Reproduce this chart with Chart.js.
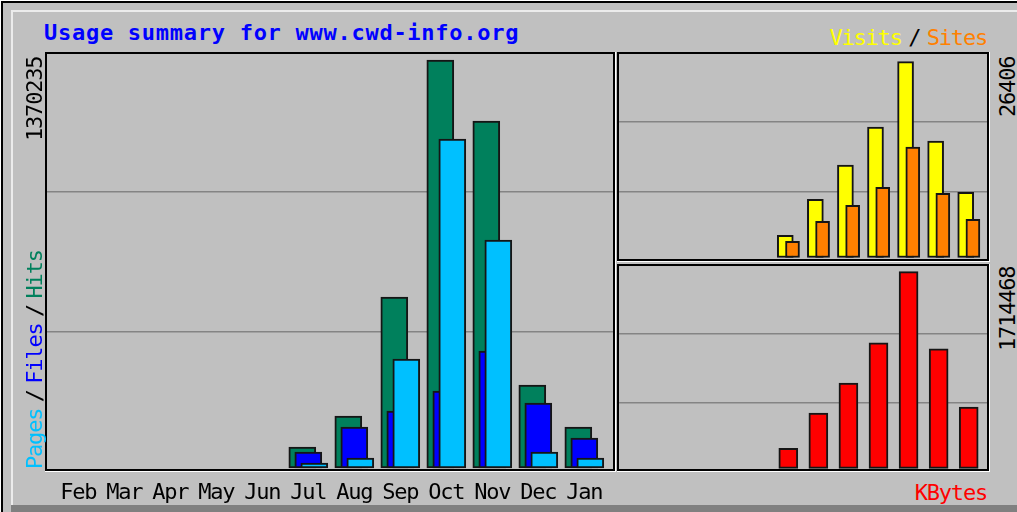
<!DOCTYPE html>
<html><head><meta charset="utf-8">
<script src="https://cdn.jsdelivr.net/npm/chart.js@4.4.1/dist/chart.umd.min.js"></script>
<style>
html,body{margin:0;padding:0;background:#fff;}
#wrap{position:relative;width:1017px;height:512px;overflow:hidden;background:#fff;}
.abs{position:absolute;}
canvas{position:absolute;}
.t{position:absolute;white-space:nowrap;font-family:"DejaVu Sans Mono",monospace;font-size:22px;line-height:22px;letter-spacing:-1.2px;}
.rot{transform-origin:0 0;transform:rotate(-90deg);}
.sl{margin:0 6.5px;color:#000;}
</style></head><body>
<div id="wrap">
  <div class="abs" style="left:1px;top:1px;right:0;bottom:0;background:#c0c0c0;border-left:2px solid #000;border-top:2px solid #000;"></div>
  <div class="abs" style="left:11px;top:10px;right:0;height:2px;background:#ececec"></div>
  <div class="abs" style="left:11px;top:10px;width:2px;height:495px;background:#ececec"></div>
  <div class="abs" style="left:11px;top:505px;right:0;height:7px;background:#808080"></div>

  <canvas id="main" width="571" height="460" style="left:45px;top:52px"></canvas>
  <canvas id="vs" width="373" height="210" style="left:617px;top:52px"></canvas>
  <canvas id="kb" width="373" height="208" style="left:617px;top:264px"></canvas>

  <div class="t" id="title" style="left:44px;top:22px;font-weight:bold;letter-spacing:0.73px;color:#0000ff"></div>
  <div class="t" style="right:30px;top:27px"><span style="color:#ffff00">Visits</span><span class="sl">/</span><span style="color:#ff8000">Sites</span></div>
  <div class="t" style="right:30px;top:482px;color:#ff0000">KBytes</div>
  <div class="t rot" id="lmax" style="left:24px;top:141px;color:#000"></div>
  <div class="t rot" style="left:24px;top:469px"><span style="color:#00c0ff">Pages</span><span class="sl">/</span><span style="color:#0000ff">Files</span><span class="sl">/</span><span style="color:#00805c">Hits</span></div>
  <div class="t rot" id="vmax" style="left:997px;top:117px;color:#000"></div>
  <div class="t rot" id="kmax" style="left:997px;top:351px;color:#000"></div>
</div>
<script>
const titleText = 'Usage summary for www.cwd-info.org';
const months = ['Feb','Mar','Apr','May','Jun','Jul','Aug','Sep','Oct','Nov','Dec','Jan'];
const hits   = [0,0,0,0,0, 70500, 174600, 574300, 1370235, 1165400, 278700, 137700];
const files  = [0,0,0,0,0, 53700, 137700, 191400, 258600, 392900, 218300, 100800];
const pages  = [0,0,0,0,0, 16800, 33600, 366100, 1104900, 765700, 53700, 33600];
const visits = [0,0,0,0,0, 2979, 7854, 12458, 17604, 26406, 15708, 8802];
const sites  = [0,0,0,0,0, 2167, 4875, 7041, 9479, 14895, 8666, 5146];
const kbytes = [0,0,0,0,0, 175000, 481000, 743500, 1093400, 1714468, 1041000, 533600];
const hitsMaxLabel = '1370235';
const visitsMaxLabel = '26406';
const kbytesMaxLabel = '1714468';

document.getElementById('title').textContent = titleText;
document.getElementById('lmax').textContent = hitsMaxLabel;
document.getElementById('vmax').textContent = visitsMaxLabel;
document.getElementById('kmax').textContent = kbytesMaxLabel;

const FONT = '"DejaVu Sans Mono", monospace';
const BORDER = '#151515';

const framePlugin = {
  id: 'frame',
  beforeDraw(chart) { chart.ctx.letterSpacing = '-1.2px'; },
  afterDraw(chart) {
    const {left, top, right, bottom} = chart.chartArea;
    const ctx = chart.ctx;
    ctx.save();
    ctx.fillStyle = '#000';
    ctx.fillRect(left, top, right - left - 1, 2);
    ctx.fillRect(left, top, 2, bottom - top - 1);
    ctx.fillRect(right - 3, top, 2, bottom - top - 1);
    ctx.fillRect(left, bottom - 3, right - left - 1, 2);
    ctx.fillStyle = '#ffffff';
    ctx.fillRect(right - 1, top, 1, bottom - top);
    ctx.fillRect(left, bottom - 1, right - left, 1);
    ctx.restore();
  }
};

function pts(arr, off) {
  return arr.map((v, i) => ({x: i + off, y: v})).filter(p => p.y > 0);
}
function yScale(min, max) {
  return {
    type: 'linear', min, max,
    afterFit(s) { s.width = 0; },
    afterBuildTicks(s) { s.ticks = [{value: min + (max - min) / 3}, {value: min + 2 * (max - min) / 3}]; },
    ticks: {display: false},
    grid: {color: '#848484', lineWidth: 1.5, drawTicks: false},
    border: {display: false}
  };
}
function hiddenX(min, max) {
  return {type: 'linear', min, max, offset: false, display: false};
}
const common = {
  responsive: false, animation: false, devicePixelRatio: 1,
  layout: {padding: 0},
  plugins: {legend: {display: false}, tooltip: {enabled: false}, title: {display: false}},
  datasets: {bar: {grouped: false, borderWidth: 2, borderColor: BORDER, borderSkipped: false}}
};

// Main panel: Hits / Files / Pages
new Chart(document.getElementById('main'), {
  type: 'bar',
  data: {datasets: [
    {label: 'Hits', data: pts(hits, -0.1304), backgroundColor: '#00805c', barThickness: 27, order: 3},
    {label: 'Files', data: pts(files, 0), backgroundColor: '#0000ff', barThickness: 27, order: 2},
    {label: 'Pages', data: pts(pages, 0.1304), backgroundColor: '#00c0ff', barThickness: 27, order: 1}
  ]},
  options: Object.assign({}, common, {
    scales: {
      x: {
        type: 'linear', min: -0.7239, max: 11.689, offset: false,
        afterBuildTicks(s) { s.ticks = months.map((m, i) => ({value: i})); },
        afterFit(s) { s.height = 40; },
        ticks: {callback: (v) => months[v], autoSkip: false, maxRotation: 0, minRotation: 0, padding: 10,
                color: '#000', font: {family: FONT, size: 22, lineHeight: 1}},
        grid: {display: false, drawTicks: false, offset: false},
        border: {display: false}
      },
      y: yScale(-13434, 1397094)
    }
  }),
  plugins: [framePlugin]
});

// Top right: Visits / Sites
new Chart(document.getElementById('vs'), {
  type: 'bar',
  data: {datasets: [
    {label: 'Visits', data: pts(visits, -0.1), backgroundColor: '#ffff00', barThickness: 16, order: 2},
    {label: 'Sites', data: pts(sites, 0.14), backgroundColor: '#ff8000', barThickness: 14, order: 1}
  ]},
  options: Object.assign({}, common, {
    scales: {x: hiddenX(-0.6967, 11.708), y: yScale(-607, 27714)}
  }),
  plugins: [framePlugin]
});

// Bottom right: KBytes
new Chart(document.getElementById('kb'), {
  type: 'bar',
  data: {datasets: [
    {label: 'KBytes', data: pts(kbytes, 0), backgroundColor: '#ff0000', barThickness: 19}
  ]},
  options: Object.assign({}, common, {
    scales: {x: hiddenX(-0.6967, 11.708), y: yScale(-32266, 1781618)}
  }),
  plugins: [framePlugin]
});
</script>
</body></html>
